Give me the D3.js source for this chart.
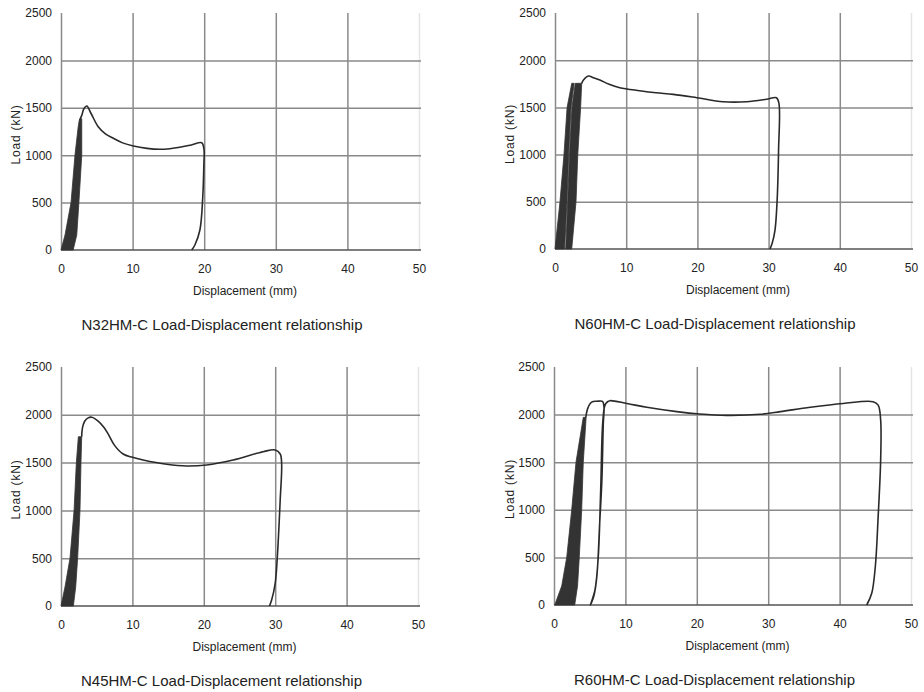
<!DOCTYPE html>
<html lang="en">

<head>
    <meta charset="utf-8">
    <style>
        body {
            margin: 0;
            background: #fff;
            font-family: 'Liberation Sans', Arial, sans-serif;
        }
    </style>
</head>

<body>
    <div class='charts'></div>
    <script src="https://d3js.org/d3.v7.min.js"></script>
    <script>
        // axis ticks
        const xTicks = [0, 10, 20, 30, 40, 50];
        const yTicks = [0, 500, 1000, 1500, 2000, 2500];
        const specimens = ['N32HM-C', 'N60HM-C', 'N45HM-C', 'R60HM-C'];

        // [displacement mm, load kN]  - cyclic bands (outline) and monotonic curves
        const n32Band = [[0, 0], [0.56, 158], [1.4, 500], [1.95, 1000], [2.4, 1300], [2.55, 1370], [2.9, 1385],
            [2.9, 1000], [2.5, 500], [2.2, 158], [1.7, 0]];
        const n32Curve = [[2.6, 1370], [2.9, 1420], [3.2, 1490], [3.6, 1519], [4.2, 1440], [5.2, 1300], [6.2, 1225],
            [7.3, 1178], [8.6, 1130], [10.1, 1097], [12, 1072], [13.8, 1062], [15.2, 1068], [16.6, 1083], [18.2, 1108],
            [19.65, 1132], [19.97, 1060], [19.95, 900], [19.8, 562], [19.4, 211], [18.7, 53], [18.25, 0]];

        const n60BandA = [[0, 0], [0.7, 500], [1.26, 1000], [1.7, 1500], [2.35, 1755], [2.7, 1755],
            [2.25, 1500], [1.92, 1000], [1.68, 500], [1.35, 0]];
        const n60BandB = [[1.5, 0], [1.78, 500], [2.03, 1000], [2.38, 1500], [2.85, 1755], [3.75, 1755],
            [3.6, 1500], [3.2, 1000], [2.95, 500], [2.35, 0]];
        const n60Curve = [[3.75, 1755], [4.0, 1790], [4.68, 1832], [5.4, 1815], [6.3, 1790], [7.6, 1745], [9.1, 1709],
            [11.9, 1677], [14.2, 1655], [16.6, 1638], [19.9, 1603], [23.6, 1560], [26.9, 1560], [29.7, 1586],
            [31.1, 1603], [31.45, 1543], [31.4, 1049], [31.2, 519], [30.9, 201], [30.5, 60], [30.2, 0]];

        const n45Band = [[0, 0], [0.56, 200], [1.26, 500], [1.83, 1000], [2.15, 1500], [2.43, 1771], [2.9, 1771],
            [2.8, 1500], [2.66, 1000], [2.33, 500], [2.06, 200], [1.73, 0]];
        const n45Curve = [[2.9, 1771], [3.0, 1860], [3.3, 1930], [3.8, 1968], [4.3, 1975], [5.2, 1935], [6.0, 1870],
            [6.6, 1800], [7.5, 1680], [8.7, 1590], [10, 1555], [11.5, 1527], [14.8, 1482], [17.6, 1464], [20.4, 1475],
            [24.1, 1527], [28.3, 1614], [30.0, 1632], [30.7, 1590], [30.9, 1492], [30.7, 1109], [30.3, 516],
            [30.0, 237], [29.5, 63], [29.2, 0]];

        const r60Band = [[0.1, 0], [1.08, 200], [1.78, 500], [2.48, 1000], [3.08, 1500], [4.1, 1971], [4.5, 1971],
            [4.1, 1500], [3.88, 1000], [3.54, 500], [3.3, 200], [2.9, 0]];
        const r60Curve = [[4.45, 1971], [4.7, 2060], [5.1, 2120], [5.5, 2138], [6.0, 2140], [6.8, 2138], [7.0, 2080],
            [6.9, 1900], [6.7, 1300], [6.4, 860], [6.0, 300], [5.6, 100], [5.1, 0],
            [5.74, 158], [6.2, 507], [6.54, 1208], [6.82, 1908], [7.14, 2100], [7.5, 2135], [7.84, 2146],
            [10.2, 2117], [13.0, 2077], [17.2, 2031], [20.4, 2006], [24.2, 1992], [28.9, 2003], [31.7, 2031],
            [35.9, 2077], [40.5, 2117], [44.7, 2135], [45.4, 2100], [45.75, 1943], [45.75, 1523], [45.4, 928],
            [45.0, 402], [44.5, 123], [43.8, 0]];

        // plot boxes (px)
        const panels = [
            { name: specimens[0], bands: [n32Band], curve: n32Curve, left: 61, right: 419, top: 13, bottom: 250, labX: 15, titleY: 330 },
            { name: specimens[1], bands: [n60BandA, n60BandB], curve: n60Curve, left: 555, right: 911, top: 13, bottom: 249, labX: 509, titleY: 329 },
            { name: specimens[2], bands: [n45Band], curve: n45Curve, left: 61, right: 418, top: 367, bottom: 606, labX: 15, titleY: 686 },
            { name: specimens[3], bands: [r60Band], curve: r60Curve, left: 554, right: 911, top: 367, bottom: 605, labX: 509, titleY: 685 }
        ];

        const svg = d3.select('.charts').append('svg')
            .attr('width', 924).attr('height', 692);

        panels.forEach(p => {
            const x = d3.scaleLinear().domain([0, 50]).range([p.left, p.right]);
            const y = d3.scaleLinear().domain([0, 2500]).range([p.bottom, p.top]);
            const g = svg.append('g');

            // vertical grid + x tick labels
            const gx = g.append('g').attr('transform', `translate(0,${p.bottom})`)
                .call(d3.axisBottom(x).tickValues(xTicks).tickFormat(d3.format('d'))
                    .tickSize(-(p.bottom - p.top)).tickPadding(14));
            gx.select('.domain').remove();
            gx.selectAll('line').attr('stroke', d => d === 50 ? '#e4e4e4' : '#8a8a8a').attr('stroke-width', 1.5);

            // horizontal grid + y tick labels
            const gy = g.append('g').attr('transform', `translate(${p.left},0)`)
                .call(d3.axisLeft(y).tickValues(yTicks).tickFormat(d3.format('d'))
                    .tickSize(-(p.right - p.left + 2)).tickPadding(9));
            gy.select('.domain').remove();
            gy.selectAll('line').attr('stroke', d => d === 2500 || d === 0 ? 'none' : '#8a8a8a').attr('stroke-width', 1.5);

            g.selectAll('.tick text').attr('fill', '#222').style('font-size', '12px')
                .style('font-family', "'Liberation Sans', Arial, sans-serif");

            // base line at 0 kN
            g.append('line')
                .attr('x1', x(0)).attr('x2', x(50) + 2)
                .attr('y1', y(0)).attr('y2', y(0))
                .attr('stroke', '#555').attr('stroke-width', 1.6);

            // cyclic part
            const band = d3.line().x(d => x(d[0])).y(d => y(d[1])).curve(d3.curveLinearClosed);
            g.selectAll('.band').data(p.bands).enter().append('path')
                .attr('class', 'band')
                .attr('d', band)
                .attr('fill', '#333').attr('stroke', '#333').attr('stroke-width', 0.8);

            // monotonic curve
            const line = d3.line().x(d => x(d[0])).y(d => y(d[1])).curve(d3.curveCatmullRom.alpha(0.5));
            g.append('path').datum(p.curve)
                .attr('d', line)
                .attr('fill', 'none').attr('stroke', '#2a2a2a').attr('stroke-width', 1.6);

            // labels
            g.append('text').text('Displacement (mm)')
                .attr('x', (p.left + p.right) / 2 + 5).attr('y', p.bottom + 45)
                .attr('text-anchor', 'middle').attr('fill', '#222')
                .style('font-size', '12px');
            g.append('text').text('Load (kN)')
                .attr('transform', `translate(${p.labX + 5},${(p.top + p.bottom) / 2 + 3}) rotate(-90)`)
                .attr('text-anchor', 'middle').attr('fill', '#222')
                .style('font-size', '12px').style('letter-spacing', '0.8px');
            g.append('text').text(p.name + ' Load-Displacement relationship')
                .attr('x', (p.left + p.right) / 2 - 18).attr('y', p.titleY)
                .attr('text-anchor', 'middle').attr('fill', '#222')
                .style('font-size', '15px');
        });
    </script>
</body>

</html>
